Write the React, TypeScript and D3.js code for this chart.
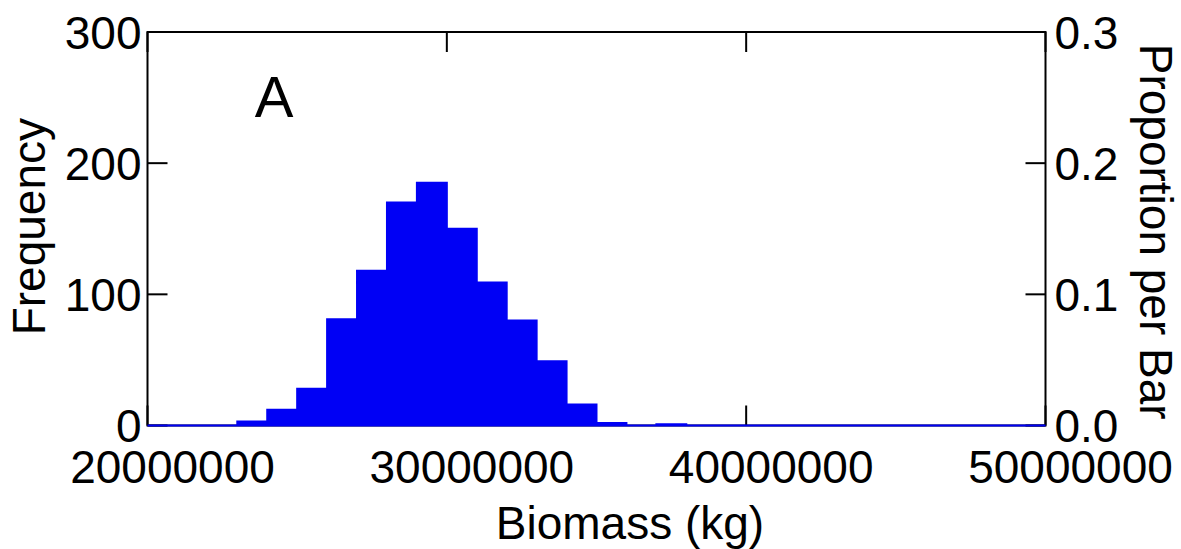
import React from "react";
import * as d3 from "d3";

// Histogram of simulated biomass: lower bound of each 1,000,000 kg bin and its count
const binStarts: number[] = [
  20e6, 21e6, 22e6, 23e6, 24e6, 25e6, 26e6, 27e6, 28e6, 29e6,
  30e6, 31e6, 32e6, 33e6, 34e6, 35e6, 36e6, 37e6, 38e6, 39e6,
  40e6, 41e6, 42e6, 43e6, 44e6, 45e6, 46e6, 47e6, 48e6, 49e6,
];
const counts: number[] = [
  0, 0, 0, 3, 12, 28, 81, 118, 170, 185,
  150, 109, 80, 49, 16, 2, 0, 1, 0, 0,
  0, 0, 0, 0, 0, 0, 0, 0, 0, 0,
];
const binWidth = 1e6;

const xTicks: number[] = [20e6, 30e6, 40e6, 50e6];
const freqTicks: number[] = [0, 100, 200, 300];
const propTicks: number[] = [0, 0.1, 0.2, 0.3];

const panelLabel = "A";
const xTitle = "Biomass (kg)";
const yTitle = "Frequency";
const y2Title = "Proportion per Bar";

const W = 1181;
const H = 549;
const plot = { left: 147.5, right: 1045.5, top: 32, bottom: 425.5 };
const FONT = "'Liberation Sans', Arial, Helvetica, sans-serif";
const BLUE = "#0000f5";

export default function App() {
  const x = d3.scaleLinear().domain([20e6, 50e6]).range([plot.left, plot.right]);
  const y = d3.scaleLinear().domain([0, 300]).range([plot.bottom, plot.top]);
  const yProp = d3.scaleLinear().domain([0, 0.3]).range([plot.bottom, plot.top]);
  const tickLen = 20;

  // Step outline of the histogram, including empty bins along the baseline
  const pts: [number, number][] = [[x(binStarts[0]), y(0)]];
  binStarts.forEach((b, i) => {
    pts.push([x(b), y(counts[i])]);
    pts.push([x(b + binWidth), y(counts[i])]);
  });
  pts.push([x(binStarts[binStarts.length - 1] + binWidth), y(0)]);
  const histPath = d3.line()(pts) + "Z";

  const fmtProp = d3.format(".1f");
  const fs = 46;

  return (
    <div style={{ position: "fixed", left: 0, top: 0 }}>
      <svg width={W} height={H} viewBox={`0 0 ${W} ${H}`} style={{ display: "block", background: "#fff" }}>
        <g stroke="#000" strokeWidth={2} fill="none">
          <rect
            x={plot.left}
            y={plot.top}
            width={plot.right - plot.left}
            height={plot.bottom - plot.top}
          />
          {xTicks.map((t) => (
            <g key={"xt" + t}>
              <line x1={x(t)} x2={x(t)} y1={plot.bottom} y2={plot.bottom - tickLen} />
              <line x1={x(t)} x2={x(t)} y1={plot.top} y2={plot.top + tickLen} />
            </g>
          ))}
          {freqTicks.map((t) => (
            <line key={"yt" + t} x1={plot.left} x2={plot.left + tickLen} y1={y(t)} y2={y(t)} />
          ))}
          {propTicks.map((t) => (
            <line key={"pt" + t} x1={plot.right} x2={plot.right - tickLen} y1={yProp(t)} y2={yProp(t)} />
          ))}
        </g>

        <path d={histPath} fill={BLUE} stroke={BLUE} strokeWidth={2} strokeLinejoin="miter" />

        <g fontFamily={FONT} fontSize={fs} fill="#000">
          {freqTicks.map((t) => (
            <text key={"yl" + t} x={plot.left - 6} y={y(t) + 16.5} textAnchor="end">
              {String(t)}
            </text>
          ))}
          {propTicks.map((t) => (
            <text key={"pl" + t} x={plot.right + 9} y={yProp(t) + 16.5} textAnchor="start">
              {fmtProp(t)}
            </text>
          ))}
          {xTicks.map((t) => (
            <text key={"xl" + t} x={x(t) + 25} y={482.5} textAnchor="middle">
              {String(t)}
            </text>
          ))}
          <text x={630} y={539} textAnchor="middle">
            {xTitle}
          </text>
          <text transform={`translate(45, 226.7) rotate(-90)`} textAnchor="middle">
            {yTitle}
          </text>
          <text transform={`translate(1140, 231.7) rotate(90)`} textAnchor="middle">
            {y2Title}
          </text>
          <text x={274} y={117} textAnchor="middle" fontSize={58}>
            {panelLabel}
          </text>
        </g>
      </svg>
    </div>
  );
}
